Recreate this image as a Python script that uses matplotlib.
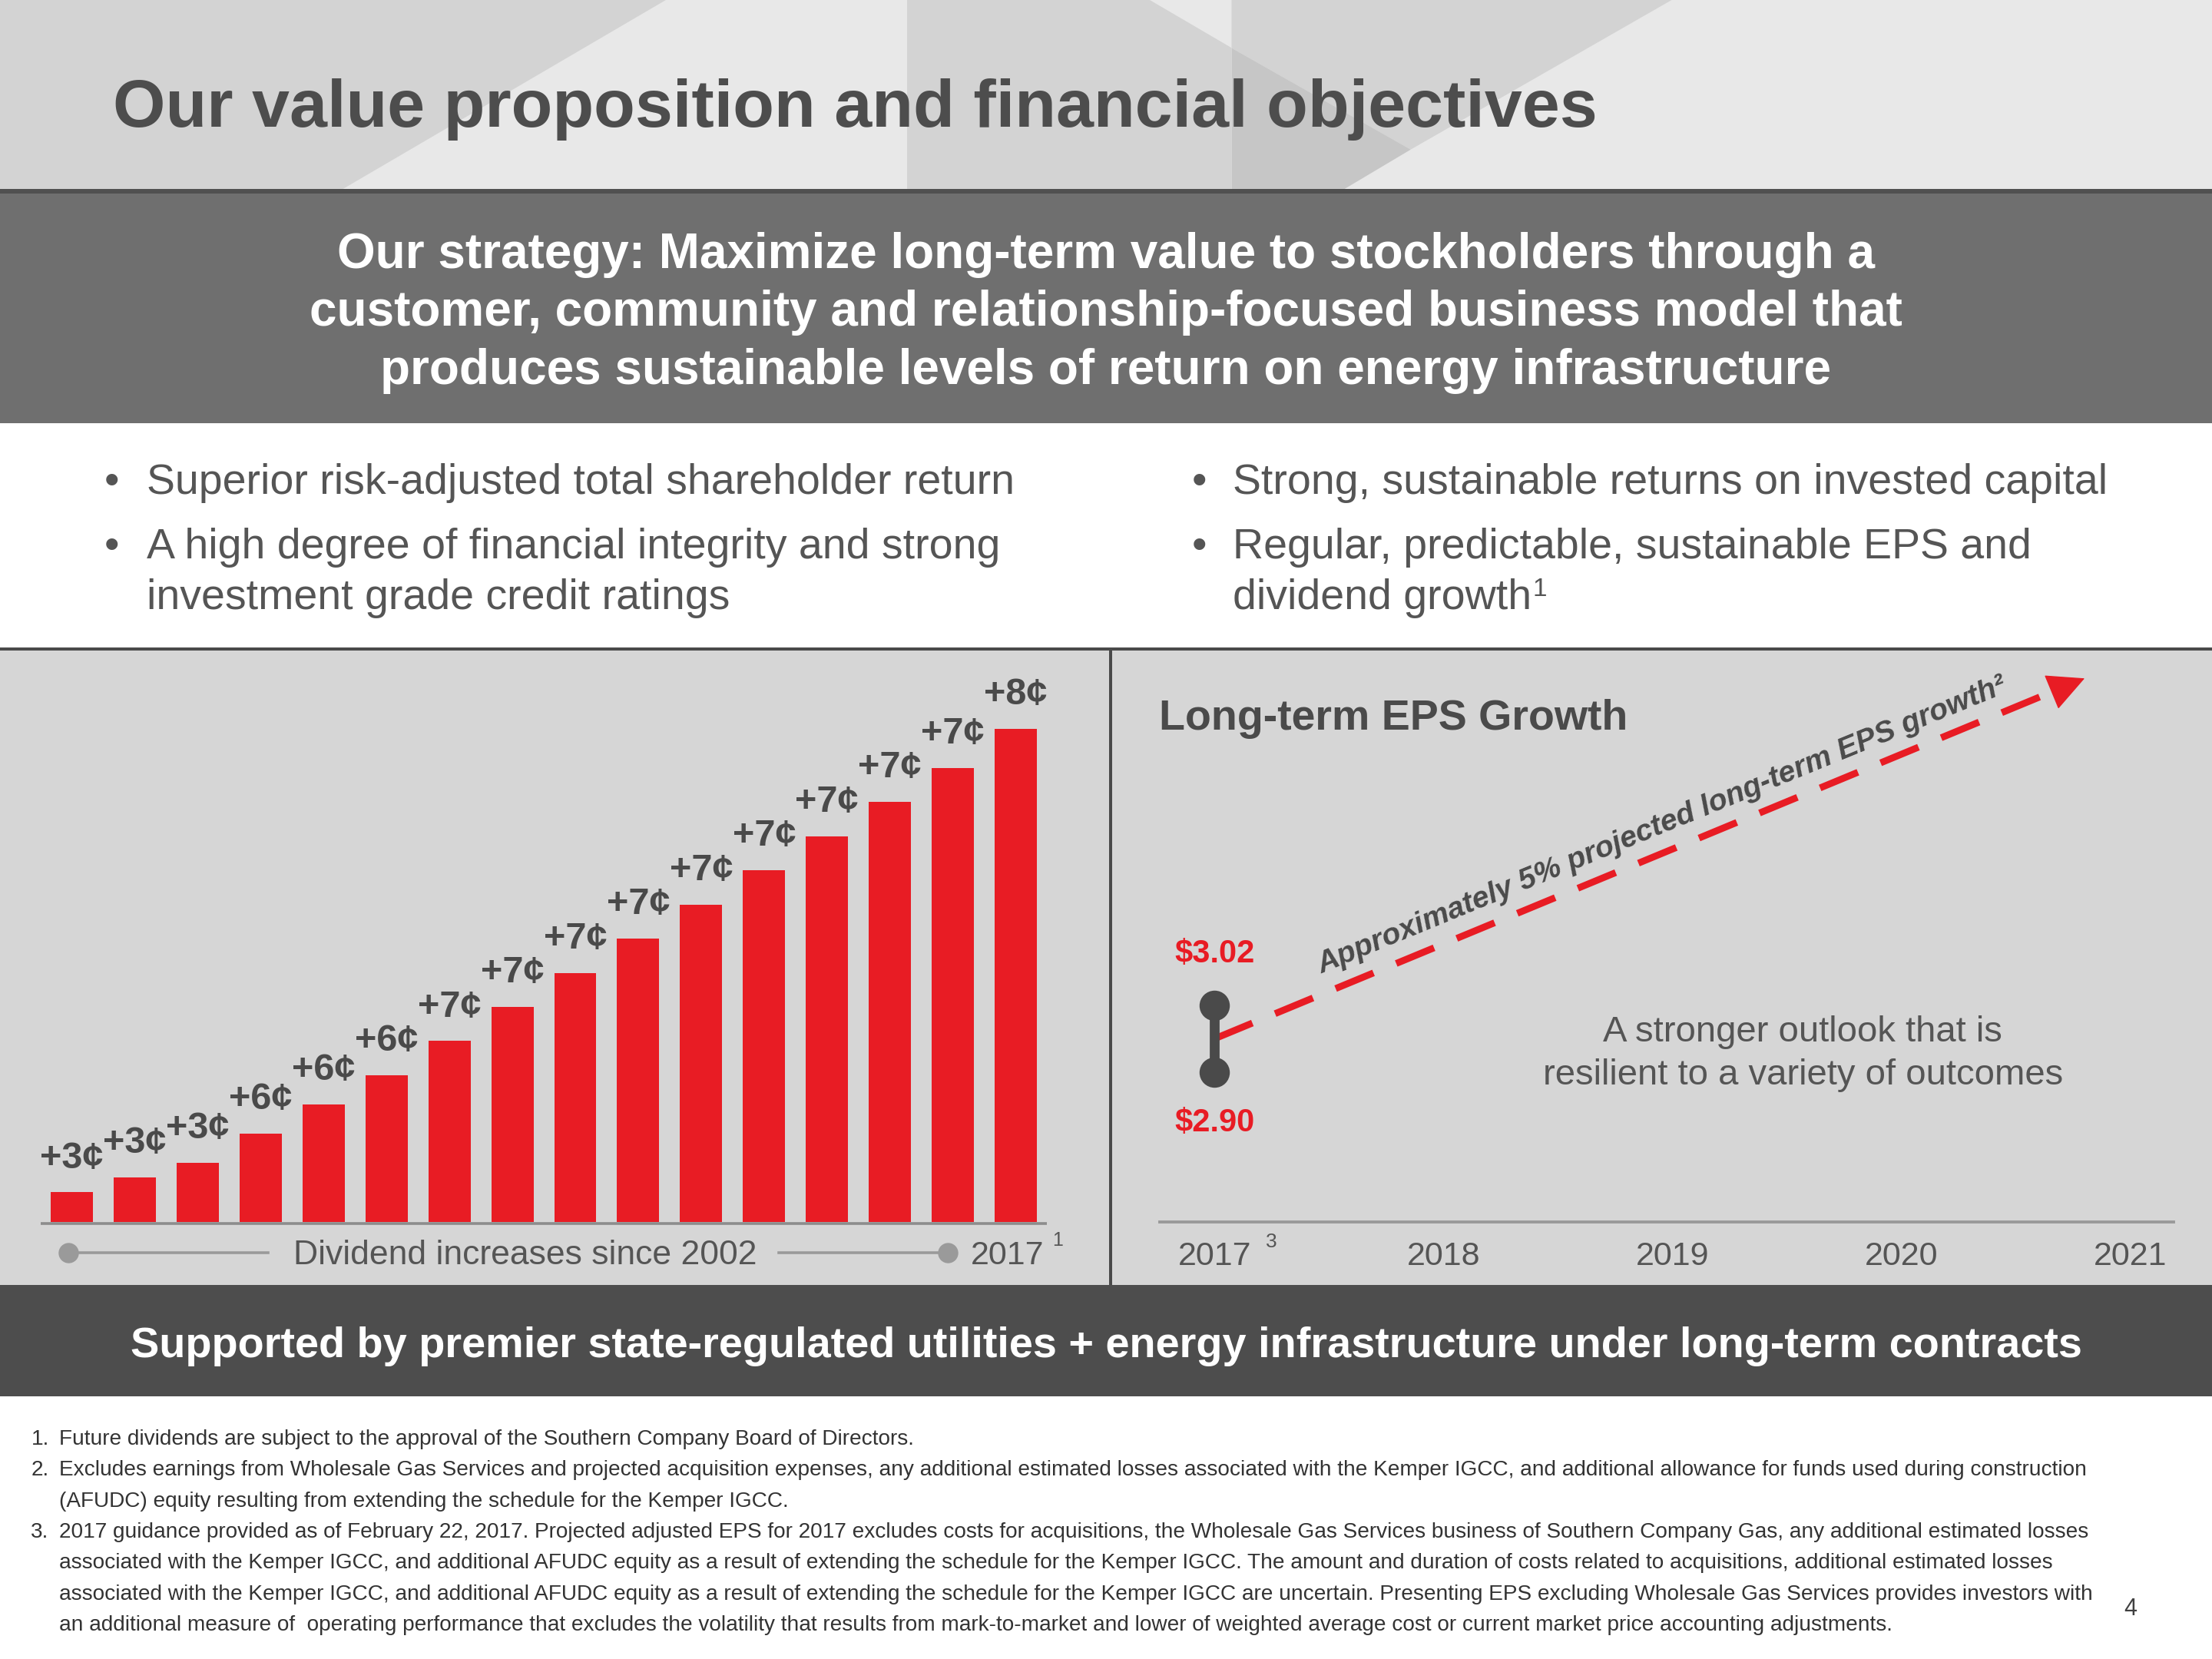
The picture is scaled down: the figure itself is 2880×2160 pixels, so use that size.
import numpy as np
import matplotlib
matplotlib.use("Agg")
import matplotlib.pyplot as plt
from matplotlib.patches import Rectangle, Polygon

# ---------------- data ----------------
title = "Our value proposition and financial objectives"
strategy_lines = [
    "Our strategy: Maximize long-term value to stockholders through a",
    "customer, community and relationship-focused business model that",
    "produces sustainable levels of return on energy infrastructure",
]
bullets_left = [
    ["Superior risk-adjusted total shareholder return"],
    ["A high degree of financial integrity and strong", "investment grade credit ratings"],
]
bullets_right = [
    ["Strong, sustainable returns on invested capital"],
    ["Regular, predictable, sustainable EPS and", "dividend growth"],
]
div_increments = [3, 3, 3, 6, 6, 6, 7, 7, 7, 7, 7, 7, 7, 7, 7, 8]       # cents
div_annual = [1.37, 1.40, 1.43, 1.49, 1.55, 1.61, 1.68, 1.75, 1.82, 1.89,
              1.96, 2.03, 2.10, 2.17, 2.24, 2.32]                       # $ / share
div_caption = "Dividend increases since 2002"
div_end_year = "2017"

eps_years = [2017, 2018, 2019, 2020, 2021]
eps_low, eps_high = 2.90, 3.02
trend_years = [2017, 2020.8]
trend_eps = [2.96, 3.61]
eps_title = "Long-term EPS Growth"
trend_label = "Approximately 5% projected long-term EPS growth\u00b2"
outlook_lines = ["A stronger outlook that is", "resilient to a variety of outcomes"]

banner = "Supported by premier state-regulated utilities + energy infrastructure under long-term contracts"
footnotes = [
    ("1.", ["Future dividends are subject to the approval of the Southern Company Board of Directors."]),
    ("2.", ["Excludes earnings from Wholesale Gas Services and projected acquisition expenses, any additional estimated losses associated with the Kemper IGCC, and additional allowance for funds used during construction",
            "(AFUDC) equity resulting from extending the schedule for the Kemper IGCC."]),
    ("3.", ["2017 guidance provided as of February 22, 2017. Projected adjusted EPS for 2017 excludes costs for acquisitions, the Wholesale Gas Services business of Southern Company Gas, any additional estimated losses",
            "associated with the Kemper IGCC, and additional AFUDC equity as a result of extending the schedule for the Kemper IGCC. The amount and duration of costs related to acquisitions, additional estimated losses",
            "associated with the Kemper IGCC, and additional AFUDC equity as a result of extending the schedule for the Kemper IGCC are uncertain. Presenting EPS excluding Wholesale Gas Services provides investors with",
            "an additional measure of  operating performance that excludes the volatility that results from mark-to-market and lower of weighted average cost or current market price accounting adjustments."]),
]
page_no = "4"

# ---------------- style ----------------
RED = "#e81c24"
DARK = "#4a4a4a"
TXT = "#555555"
PANEL = "#d6d6d6"
plt.rcParams["font.family"] = ["Liberation Sans", "DejaVu Sans"]

W, H = 1568, 1176
fig = plt.figure(figsize=(14.4, 10.8), dpi=200, facecolor="white")


def rect(x0, y0, x1, y1):
    return [x0 / W, 1 - y1 / H, (x1 - x0) / W, (y1 - y0) / H]


bg = fig.add_axes([0, 0, 1, 1])
bg.set_xlim(0, W)
bg.set_ylim(H, 0)
bg.axis("off")


def box(x0, y0, x1, y1, c, z=0):
    bg.add_patch(Rectangle((x0, y0), x1 - x0, y1 - y0, facecolor=c, edgecolor="none", zorder=z))


# header
box(0, 0, W, 134, "#e8e8e8")
bg.add_patch(Polygon([(0, 0), (472, 0), (243, 134), (0, 134)], closed=True, fc="#d3d3d3", ec="none", zorder=0.1))
box(643, 0, 873, 134, "#d3d3d3", 0.1)
bg.add_patch(Polygon([(815, 0), (873, 0), (873, 34)], closed=True, fc="#e8e8e8", ec="none", zorder=0.2))
bg.add_patch(Polygon([(873, 0), (1185, 0), (1000, 106), (873, 34)], closed=True, fc="#d3d3d3", ec="none", zorder=0.2))
bg.add_patch(Polygon([(873, 34), (1000, 106), (953, 134), (873, 134)], closed=True, fc="#c6c6c6", ec="none", zorder=0.2))
box(0, 134, W, 137, "#505050", 0.3)
bg.text(80, 90, title, fontsize=31.7, fontweight="bold", color="#4d4d4d", ha="left", va="baseline")

# strategy band
box(0, 137, W, 300, "#6f6f6f")
for i, line in enumerate(strategy_lines):
    bg.text(784, 190 + 41 * i, line, fontsize=23, fontweight="bold", color="white", ha="center", va="baseline")

# bullets
def bullets(items, xdot, xtxt):
    y = 350
    last = None
    for item in items:
        bg.text(xdot, y, "\u2022", fontsize=20, color=TXT, ha="center", va="baseline")
        for line in item:
            last = bg.text(xtxt, y, line, fontsize=20, color=TXT, ha="left", va="baseline")
            y += 36
        y += 10
    return last


bullets(bullets_left, 79, 104)
last = bullets(bullets_right, 850, 874)
bg.annotate("1", xy=(1, 1), xycoords=last, xytext=(0.5, 0.5), textcoords="offset points",
            fontsize=12, color=TXT, ha="left", va="top")

# panels
box(0, 458.8, W, 461.3, "#4a4a4a", 0.3)
box(0, 461.3, W, 911, PANEL)
box(786, 461.3, 788.5, 911, "#4a4a4a", 0.3)
box(0, 911, W, 990, "#4d4d4d")
bg.text(784, 962, banner, fontsize=20.1, fontweight="bold", color="white", ha="center", va="baseline")

# ---------------- dividend bars ----------------
axb = fig.add_axes(rect(30, 470, 745, 866))
axb.set_facecolor("none")
x = np.arange(len(div_annual))
axb.bar(x, div_annual, width=0.67, color=RED, zorder=2)
for xi, v, inc in zip(x, div_annual, div_increments):
    axb.annotate(f"+{inc}\u00a2", xy=(xi, v), xytext=(0, 11.5), textcoords="offset points",
                 ha="center", va="baseline", fontsize=17.5, fontweight="bold", color=DARK)
axb.set_xlim(-0.47, 15.56)
axb.set_ylim(1.31, 1.31 + 396 / 346)
axb.axis("off")

bg.plot([28.6, 742], [867.5, 867.5], color="#8c8c8c", lw=1.3, solid_capstyle="butt", zorder=3)
bg.plot([48.5, 190], [888, 888], color="#9a9a9a", lw=1.3, zorder=3)
bg.plot([552, 672], [888, 888], color="#9a9a9a", lw=1.3, zorder=3)
bg.plot([48.5, 672], [888, 888], "o", ms=8.5, color="#9a9a9a", zorder=3, linestyle="none")
bg.text(208, 896, div_caption, fontsize=16, color=TXT, ha="left", va="baseline")
bg.text(688, 896, div_end_year, fontsize=15.5, color=TXT, ha="left", va="baseline")
bg.text(746, 883, "1", fontsize=9, color=TXT, ha="left", va="baseline")

# ---------------- EPS panel ----------------
axe = fig.add_axes(rect(822, 462, 1541, 866))
axe.set_facecolor("none")
axe.set_xlim(2016.76, 2021.19)
axe.set_ylim(2.630, 3.658)
for s in ["top", "left", "right"]:
    axe.spines[s].set_visible(False)
axe.spines["bottom"].set_color("#9a9a9a")
axe.spines["bottom"].set_linewidth(1.4)
axe.set_xticks(eps_years, labels=[str(y) for y in eps_years])
axe.set_yticks([])
axe.tick_params(axis="x", length=0, pad=9, labelsize=15.5, labelcolor=TXT)

# trend line with arrow head
tx_end = trend_years[1] - 0.11
ty_end = np.interp(tx_end, trend_years, trend_eps)
axe.plot([trend_years[0], tx_end], [trend_eps[0], ty_end], color=RED, lw=3.2,
         linestyle=(0, (6, 3.6)), dash_capstyle="butt", zorder=2)
axe.annotate("", xy=(trend_years[1], trend_eps[1]), xytext=(tx_end, ty_end),
             arrowprops=dict(arrowstyle="-|>,head_length=0.8,head_width=0.4", color=RED,
                             lw=0.5, mutation_scale=20, shrinkA=0, shrinkB=0), zorder=2)

# guidance range
axe.plot([eps_years[0], eps_years[0]], [eps_low, eps_high], color=DARK, lw=4.6,
         solid_capstyle="butt", zorder=3)
axe.plot([eps_years[0], eps_years[0]], [eps_low, eps_high], "o", ms=13.2, color=DARK,
         linestyle="none", zorder=3)
axe.annotate(f"${eps_high:.2f}", xy=(eps_years[0], eps_high), xytext=(0, 20.3), textcoords="offset points",
             ha="center", va="baseline", fontsize=15, fontweight="bold", color=RED)
axe.annotate(f"${eps_low:.2f}", xy=(eps_years[0], eps_low), xytext=(0, -27.8), textcoords="offset points",
             ha="center", va="baseline", fontsize=15, fontweight="bold", color=RED)

bg.text(897, 884, "3", fontsize=9.5, color=TXT, ha="left", va="baseline")
bg.text(821.5, 517, eps_title, fontsize=20, fontweight="bold", color=DARK, ha="left", va="baseline")
bg.text(937, 690, trend_label, fontsize=14.2, fontweight="bold", fontstyle="italic", color=DARK,
        rotation=22.3, rotation_mode="anchor", ha="left", va="baseline")
for i, line in enumerate(outlook_lines):
    bg.text(1278, 738 + 31 * i, line, fontsize=17, color=TXT, ha="center", va="baseline")

# ---------------- footnotes ----------------
y = 1024
for num, lines in footnotes:
    bg.text(22, y, num, fontsize=10.1, color="#333333", ha="left", va="baseline")
    for line in lines:
        bg.text(42, y, line, fontsize=10.1, color="#333333", ha="left", va="baseline")
        y += 22
bg.text(1510, 1145, page_no, fontsize=11, color="#404040", ha="center", va="baseline")

fig.savefig("out.png", dpi=200, facecolor="white")
